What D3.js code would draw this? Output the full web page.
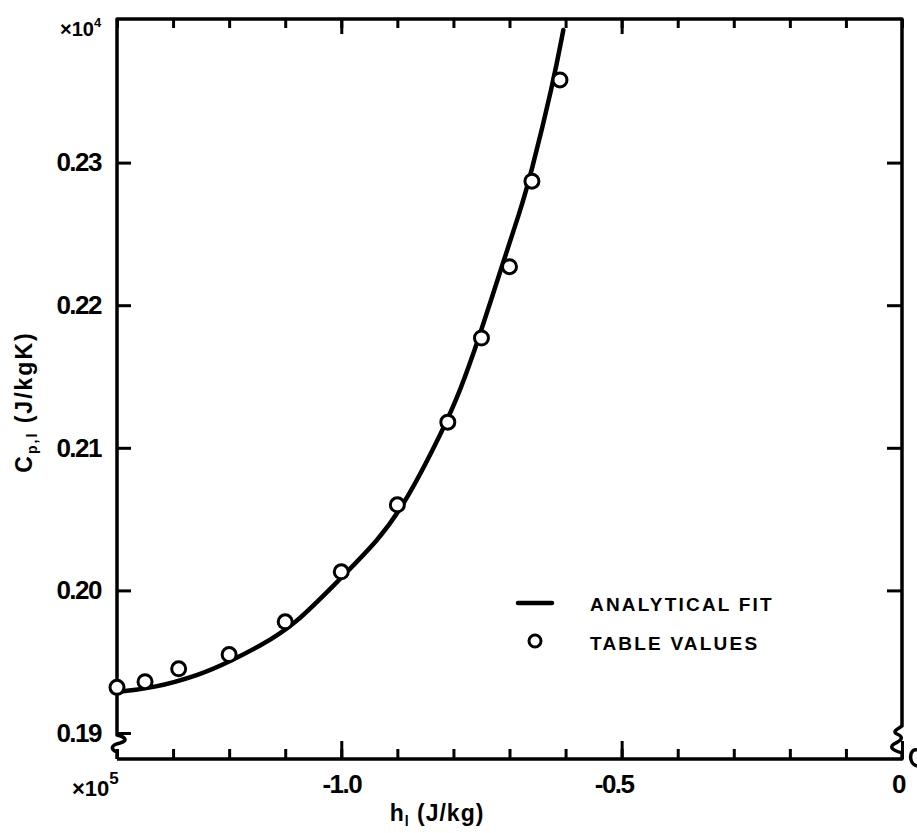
<!DOCTYPE html>
<html lang="en">
<head>
<meta charset="UTF-8">
<title>Cp,l against h_l</title>
<script src="https://d3js.org/d3.v7.min.js"></script>
<style>
  body { margin: 0; background: #fff; }
  text { font-family: "Liberation Sans", Arial, sans-serif; font-weight: bold; fill: #000; }
  .tick line { stroke: #000; stroke-width: 3; }
</style>
</head>
<body>
<script>
// enthalpy in 1e5 J/kg, heat capacity in 1e4 J/kgK
const tableH  = [-1.40, -1.35, -1.29, -1.20, -1.10, -1.00, -0.90, -0.81, -0.75, -0.70, -0.66, -0.61];
const tableCp = [0.1932, 0.1936, 0.1945, 0.1955, 0.1978, 0.2013, 0.2060, 0.2118, 0.2177, 0.2227, 0.2287, 0.2358];

const fitH  = [-1.40, -1.34, -1.25, -1.20, -1.145, -1.085, -1.00, -0.934, -0.883, -0.818, -0.788, -0.756, -0.714, -0.681, -0.663, -0.622, -0.604];
const fitCp = [0.1929, 0.1931, 0.1941, 0.1950, 0.1961, 0.1975, 0.2009, 0.2035, 0.2063, 0.2113, 0.2140, 0.2175, 0.2227, 0.2266, 0.2290, 0.2356, 0.2393];

const xTicks = d3.range(-1.4, 0.001, 0.1).map(v => +v.toFixed(1));
const xMajor = [-1.0, -0.5, 0];
const xMajorLabels = ["-1.0", "-0.5", "0"];
const yTicks = [0.19, 0.20, 0.21, 0.22, 0.23];
const yTickLabels = ["0.19", "0.20", "0.21", "0.22", "0.23"];

const W = 917, H = 833;
const frameL = 117, frameR = 902, frameT = 19, frameB = 759;

const svg = d3.select("body").append("svg")
    .attr("width", W)
    .attr("height", H);

const x = d3.scaleLinear().domain([-1.4, 0]).range([frameL, frameR]);
const y = d3.scaleLinear().domain([0.19, 0.24]).range([733, 20]);

// frame with the axis breaks near the bottom corners
const frame = d3.path();
frame.moveTo(frameL, frameB);
frame.lineTo(frameR, frameB);
frame.lineTo(frameR, 753);
frame.bezierCurveTo(895, 751, 888, 748, 894, 744);
frame.bezierCurveTo(902, 740, 904, 737, 897, 734);
frame.bezierCurveTo(891, 731, 900, 728, frameR, 726);
frame.lineTo(frameR, frameT);
frame.lineTo(frameL, frameT);
frame.lineTo(frameL, 735);
frame.bezierCurveTo(126, 737, 128, 741, 120, 743);
frame.bezierCurveTo(111, 745, 110, 749, 117, 752);
frame.lineTo(frameL, frameB);
svg.append("path")
    .attr("d", frame.toString())
    .attr("fill", "none")
    .attr("stroke", "#000")
    .attr("stroke-width", 3.5)
    .attr("stroke-linejoin", "round");

function strip(g) {
    g.select(".domain").remove();
}

// bottom: minor ticks, then major ticks with labels
svg.append("g")
    .attr("transform", `translate(0,${frameB})`)
    .call(d3.axisBottom(x).tickValues(xTicks).tickSizeInner(-10).tickSizeOuter(0).tickFormat(""))
    .call(strip);
svg.append("g")
    .attr("transform", `translate(0,${frameB})`)
    .call(d3.axisBottom(x).tickValues(xMajor).tickSizeInner(-18).tickSizeOuter(0).tickPadding(16)
        .tickFormat((d, i) => xMajorLabels[i]))
    .call(strip)
    .call(g => g.selectAll("text")
        .attr("font-size", 26)
        .attr("letter-spacing", -1.5)
        .attr("font-family", null)
        .attr("dx", (d, i) => [0, -8, -4][i]));

// top
svg.append("g")
    .attr("transform", `translate(0,${frameT})`)
    .call(d3.axisTop(x).tickValues(xTicks).tickSizeInner(-9).tickSizeOuter(0).tickFormat(""))
    .call(strip);
svg.append("g")
    .attr("transform", `translate(0,${frameT})`)
    .call(d3.axisTop(x).tickValues([-1.0, -0.5]).tickSizeInner(-15).tickSizeOuter(0).tickFormat(""))
    .call(strip);

// left with labels
svg.append("g")
    .attr("transform", `translate(${frameL},0)`)
    .call(d3.axisLeft(y).tickValues(yTicks).tickSizeInner(-14).tickSizeOuter(0).tickPadding(16)
        .tickFormat((d, i) => yTickLabels[i]))
    .call(strip)
    .call(g => g.selectAll("text")
        .attr("font-size", 26)
        .attr("letter-spacing", -1.5)
        .attr("font-family", null));

// right
svg.append("g")
    .attr("transform", `translate(${frameR},0)`)
    .call(d3.axisRight(y).tickValues(yTicks.slice(1)).tickSizeInner(-15).tickSizeOuter(0).tickFormat(""))
    .call(strip);

svg.selectAll(".tick text").attr("fill", "#000");

// scale multipliers
const m4 = svg.append("text").attr("x", 60).attr("y", 36).attr("font-size", 20);
m4.append("tspan").text("\u00d710");
m4.append("tspan").attr("font-size", 13).attr("dy", -9).text("4");

const m5 = svg.append("text").attr("x", 72).attr("y", 796).attr("font-size", 22);
m5.append("tspan").text("\u00d710");
m5.append("tspan").attr("font-size", 17).attr("dy", -12).text("5");

// sliver of the neighbouring panel's label showing at the right edge
svg.append("path")
    .attr("d", "M917,750 C909,748 908,764 917,766")
    .attr("fill", "none")
    .attr("stroke", "#000")
    .attr("stroke-width", 3.5);

// axis titles
const yt = svg.append("text")
    .attr("transform", "translate(32,402) rotate(-90)")
    .attr("text-anchor", "middle")
    .attr("font-size", 23)
    .attr("letter-spacing", 2);
yt.append("tspan").text("C");
yt.append("tspan").attr("font-size", 14).attr("dy", 5).text("p,l");
yt.append("tspan").attr("dy", -5).text(" (J/kgK)");

const xt = svg.append("text")
    .attr("x", 437)
    .attr("y", 821)
    .attr("text-anchor", "middle")
    .attr("font-size", 23)
    .attr("letter-spacing", 1);
xt.append("tspan").text("h");
xt.append("tspan").attr("font-size", 14).attr("dy", 5).text("l");
xt.append("tspan").attr("dy", -5).text(" (J/kg)");

// analytical fit
const line = d3.line()
    .x((d, i) => x(fitH[i]))
    .y((d, i) => y(fitCp[i]))
    .curve(d3.curveBasis);
svg.append("path")
    .attr("d", line(fitH))
    .attr("fill", "none")
    .attr("stroke", "#000")
    .attr("stroke-width", 4.5)
    .attr("stroke-linecap", "round");

// table values
svg.append("g").selectAll("circle")
    .data(tableH)
    .join("circle")
    .attr("cx", d => x(d))
    .attr("cy", (d, i) => y(tableCp[i]))
    .attr("r", 7)
    .attr("fill", "#fff")
    .attr("stroke", "#000")
    .attr("stroke-width", 3);

// legend
const lg = svg.append("g");
lg.append("line")
    .attr("x1", 518).attr("x2", 552)
    .attr("y1", 603).attr("y2", 603)
    .attr("stroke", "#000")
    .attr("stroke-width", 4.5)
    .attr("stroke-linecap", "round");
lg.append("circle")
    .attr("cx", 535).attr("cy", 641).attr("r", 6)
    .attr("fill", "#fff").attr("stroke", "#000").attr("stroke-width", 3);
lg.append("text").attr("x", 590).attr("y", 611)
    .attr("font-size", 19).attr("letter-spacing", 2.2).text("ANALYTICAL FIT");
lg.append("text").attr("x", 590).attr("y", 650)
    .attr("font-size", 19).attr("letter-spacing", 2.2).text("TABLE VALUES");
</script>
</body>
</html>
